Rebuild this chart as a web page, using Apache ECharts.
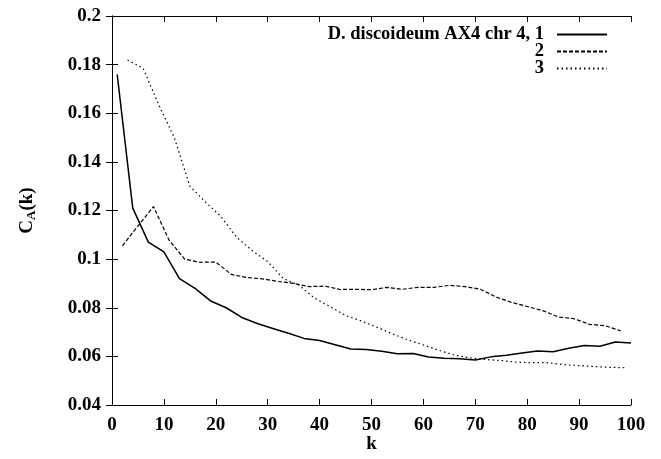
<!DOCTYPE html>
<html>
<head>
<meta charset="utf-8">
<script src="https://cdn.jsdelivr.net/npm/echarts@6/dist/echarts.min.js"></script>
<style>
  html, body { margin: 0; padding: 0; background: #fff; }
  #chart { width: 661px; height: 459px; }
</style>
</head>
<body>
<div id="chart"></div>
<script>
// series 1: k = 1, 4, 7, ...
const k1 = [1, 4, 7, 10, 13, 16, 19, 22, 25, 28, 31, 34, 37, 40, 43, 46, 49, 52, 55, 58, 61, 64, 67, 70, 73, 76, 79, 82, 85, 88, 91, 94, 97, 100];
const c1 = [0.176, 0.121, 0.107, 0.103, 0.092, 0.088, 0.0828, 0.080, 0.076, 0.0735, 0.0715, 0.0695, 0.0674, 0.0665, 0.0648, 0.063, 0.0628, 0.0621, 0.0611, 0.0612, 0.0597, 0.0592, 0.059, 0.0585, 0.0598, 0.0605, 0.0614, 0.0622, 0.0619, 0.0633, 0.0645, 0.0642, 0.0659, 0.0655];

// series 2: k = 2, 5, 8, ...
const k2 = [2, 5, 8, 11, 14, 17, 20, 23, 26, 29, 32, 35, 38, 41, 44, 47, 50, 53, 56, 59, 62, 65, 68, 71, 74, 77, 80, 83, 86, 89, 92, 95, 98];
const c2 = [0.1055, 0.1136, 0.1216, 0.1078, 0.1000, 0.0987, 0.0988, 0.0937, 0.0924, 0.0919, 0.0908, 0.0900, 0.0887, 0.0889, 0.0875, 0.0876, 0.0874, 0.0884, 0.0876, 0.0884, 0.0884, 0.0892, 0.0887, 0.0876, 0.0844, 0.0822, 0.0805, 0.0788, 0.0762, 0.0755, 0.0732, 0.0726, 0.0705];

// series 3: k = 3, 6, 9, ...
const k3 = [3, 6, 9, 12, 15, 18, 21, 24, 27, 30, 33, 36, 39, 42, 45, 48, 51, 54, 57, 60, 63, 66, 69, 72, 75, 78, 81, 84, 87, 90, 93, 96, 99];
const c3 = [0.1819, 0.1785, 0.1635, 0.150, 0.130, 0.1235, 0.1175, 0.109, 0.1035, 0.099, 0.092, 0.0893, 0.084, 0.0805, 0.0768, 0.0746, 0.072, 0.0693, 0.0668, 0.0647, 0.0625, 0.0605, 0.0594, 0.0587, 0.0583, 0.0576, 0.0574, 0.0574, 0.0566, 0.0562, 0.0558, 0.0555, 0.0553];

const names = ['D. discoideum AX4 chr 4, 1', '2', '3'];

const font = 'Liberation Serif';
const fontSize = 19;

const pairs = (ks, vs) => ks.map((k, i) => [k, vs[i]]);

const chart = echarts.init(document.getElementById('chart'));

const axisLine = { show: true, lineStyle: { color: '#000', width: 1 } };
const tick = { show: true, inside: true, length: 6, lineStyle: { color: '#000' } };
const labelStyle = { color: '#000', fontFamily: font, fontWeight: 'bold', fontSize: fontSize };

// one legend per entry so every row is right aligned like the gnuplot key
const legendBase = {
  right: 53,
  orient: 'vertical',
  align: 'right',
  padding: 0,
  itemWidth: 50,
  itemHeight: 14,
  itemStyle: { opacity: 0 },
  textStyle: { color: '#000', fontFamily: font, fontWeight: 'bold', fontSize: 18.5, padding: [0, 8, 0, 0] },
  selectedMode: false
};

const option = {
  animation: false,
  backgroundColor: '#fff',
  grid: { left: 112, right: 30, top: 16, bottom: 54, outerBoundsMode: 'none' },
  legend: [
    Object.assign({}, legendBase, { top: 25, data: [names[0]] }),
    Object.assign({}, legendBase, { top: 42, data: [names[1]] }),
    Object.assign({}, legendBase, { top: 59, data: [names[2]] })
  ],
  xAxis: [
    {
      type: 'value', min: 0, max: 100, interval: 10, position: 'bottom',
      name: 'k', nameLocation: 'middle', nameGap: 30, nameMoveOverlap: false,
      nameTextStyle: labelStyle,
      axisLine: axisLine, axisTick: tick,
      axisLabel: Object.assign({ margin: 11, alignMinLabel: 'center', alignMaxLabel: 'center' }, labelStyle),
      splitLine: { show: false }
    },
    {
      type: 'value', min: 0, max: 100, interval: 10, position: 'top',
      axisLine: axisLine, axisTick: tick,
      axisLabel: { show: false }, splitLine: { show: false }
    }
  ],
  yAxis: [
    {
      type: 'value', min: 0.04, max: 0.2, interval: 0.02, position: 'left',
      name: '{c|C}{s|A}{c|(k)}', nameLocation: 'middle', nameGap: 74, nameRotate: 90, nameMoveOverlap: false,
      nameTextStyle: Object.assign({}, labelStyle, {
        rich: {
          c: { fontFamily: font, fontWeight: 'bold', fontSize: fontSize, color: '#000', lineHeight: 22, verticalAlign: 'middle' },
          s: { fontFamily: font, fontWeight: 'bold', fontSize: 13, color: '#000', lineHeight: 13, verticalAlign: 'bottom' }
        }
      }),
      axisLine: axisLine, axisTick: tick,
      axisLabel: Object.assign({ margin: 11, formatter: v => String(+v.toFixed(2)) }, labelStyle),
      splitLine: { show: false }
    },
    {
      type: 'value', min: 0.04, max: 0.2, interval: 0.02, position: 'right',
      axisLine: axisLine, axisTick: tick,
      axisLabel: { show: false }, splitLine: { show: false }
    }
  ],
  series: [
    {
      name: names[0], type: 'line', data: pairs(k1, c1), symbol: 'none',
      lineStyle: { color: '#000', width: 1.5, type: 'solid' },
      itemStyle: { color: '#000' }
    },
    {
      name: names[1], type: 'line', data: pairs(k2, c2), symbol: 'none',
      lineStyle: { color: '#000', width: 1.2, type: [4, 2] },
      itemStyle: { color: '#000' }
    },
    {
      name: names[2], type: 'line', data: pairs(k3, c3), symbol: 'none',
      lineStyle: { color: '#000', width: 1.2, type: [1.5, 3] },
      itemStyle: { color: '#000' }
    }
  ]
};

chart.setOption(option);
</script>
</body>
</html>
